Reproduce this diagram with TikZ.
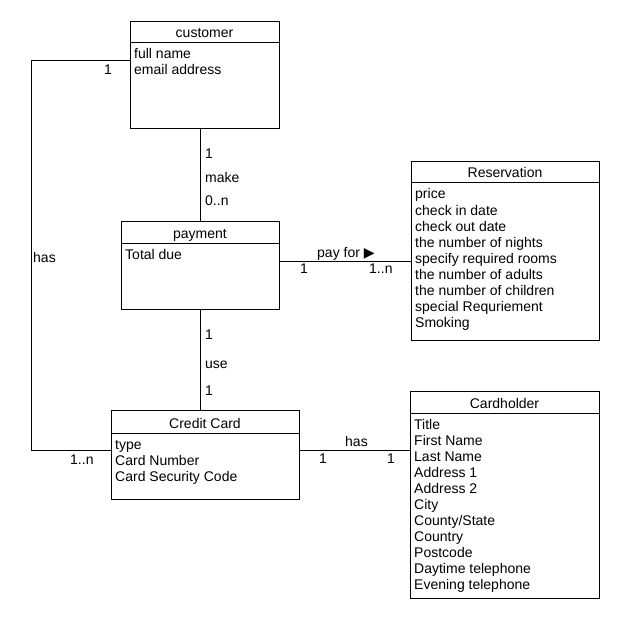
\documentclass[tikz,border=0pt]{standalone}
\usepackage{fontspec}
\setmainfont{Liberation Sans}
\newfontfamily\symfont{DejaVu Sans}
\usetikzlibrary{calc}
\newcommand\umlbox[8]{%
  \node[box, minimum width={(#4-#2)*1pt}, minimum height={(#5-#3)*1pt}] (#1) at (#2,#3) {};
  \draw[conn] (#2,#6) -- (#4,#6);
  \node[ttl] (#1-t) at ({(#2+#4)/2}, #6-5) {#7};
  \foreach \t [count=\i] in {#8} \node[txt] (#1-a\i) at (#2+4, #6+16*\i) {\t};
}
\begin{document}
\begin{tikzpicture}[x=1pt,y=-1pt,
  box/.style={draw, line width=1pt, rectangle, inner sep=0pt, anchor=north west},
  txt/.style={inner sep=0pt, anchor=base west, font=\fontsize{14}{16}\selectfont},
  ttl/.style={inner sep=0pt, anchor=base, font=\fontsize{14}{16}\selectfont},
  conn/.style={line width=1pt}]
\useasboundingbox (0,0) rectangle (620,620);
\fill[white] (0,0) rectangle (620,620);

\umlbox{customer}{130}{21}{279}{128}{43}{customer}{full name,email address}
\umlbox{payment}{121}{221}{279}{309}{243}{payment}{Total due}
\umlbox{res}{411}{161}{599}{340}{183}{Reservation}{price,check in date,check out date,the number of nights,specify required rooms,the number of adults,the number of children,special Requriement,Smoking}
\umlbox{cc}{111}{410}{299}{499}{433}{Credit Card}{type,Card Number,Card Security Code}
\umlbox{ch}{410}{391}{599}{598}{413}{Cardholder}{Title,First Name,Last Name,Address 1,Address 2,City,County/State,Country,Postcode,Daytime telephone,Evening telephone}

% connectors
\draw[conn] ($(customer.north west)+(0,40)$) -- ++(-99,0) |- ($(cc.north west)+(0,40)$);
\draw[conn] (payment.north |- customer.south) -- (payment.north);
\draw[conn] (payment.south) -- (payment.south |- cc.north);
\draw[conn] ($(payment.north east)+(0,40)$) -- ($(res.north west)+(0,100)$);
\draw[conn] ($(cc.north east)+(0,40)$) -- ($(ch.north west)+(0,59)$);

% labels
\node[txt] (l1) at (104,75) {1};
\node[txt] (l2) at (33,262) {has};
\node[txt] (l3) at (70,464) {1..n};
\node[txt] (l4) at (205,159) {1};
\node[txt] (l5) at (205,183) {make};
\node[txt] (l6) at (205,205) {0..n};
\node[txt] (l7) at (317,257) {pay for {\symfont\fontsize{14}{16}\selectfont ▶}};
\node[txt] (l8) at (300,273) {1};
\node[txt] (l9) at (369,273) {1..n};
\node[txt] (l10) at (205,339) {1};
\node[txt] (l11) at (205,368) {use};
\node[txt] (l12) at (205,395) {1};
\node[txt] (l13) at (345,446) {has};
\node[txt] (l14) at (319,463) {1};
\node[txt] (l15) at (387,463) {1};
\end{tikzpicture}
\end{document}
